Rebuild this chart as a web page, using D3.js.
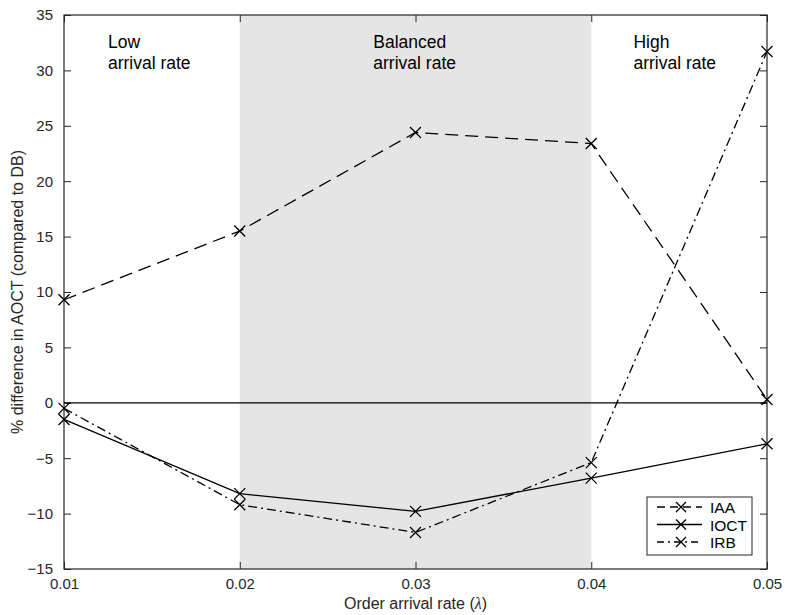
<!DOCTYPE html>
<html>
  <style>
    body { margin: 0; background: #fff; }
    text { font-family: "Liberation Sans", Arial, sans-serif; fill: #262626; }
  </style>
  <body>
    <script src="https://d3js.org/d3.v7.min.js"></script>
    <script type="text/javascript">

        // order arrival rates
        var rates = [0.01, 0.02, 0.03, 0.04, 0.05];

        // % difference in AOCT compared to DB
        var iaa = [9.3, 15.5, 24.4, 23.4, 0.3];
        var ioct = [-1.5, -8.2, -9.8, -6.8, -3.7];
        var irb = [-0.5, -9.2, -11.7, -5.4, 31.7];

        var xTicks = [0.01, 0.02, 0.03, 0.04, 0.05];
        var yTicks = [-15, -10, -5, 0, 5, 10, 15, 20, 25, 30, 35];

        var regions = [
          {x: 0.0125, lines: ["Low", "arrival rate"]},
          {x: 0.0276, lines: ["Balanced", "arrival rate"]},
          {x: 0.0424, lines: ["High", "arrival rate"]}
        ];

        var series = [
          {name: "IAA", values: iaa, dash: "13,7"},
          {name: "IOCT", values: ioct, dash: null},
          {name: "IRB", values: irb, dash: "9,4,2,4"}
        ];

        var w = 785, h = 615;
        var padL = 64, padR = 767, padT = 15, padB = 569;

        var svg = d3.select("body").append("svg")
          .attr("width", w)
          .attr("height", h);

        var xScale = d3.scaleLinear().domain([0.01, 0.05]).range([padL, padR]);
        var yScale = d3.scaleLinear().domain([-15, 35]).range([padB, padT]);

        // shaded balanced region
        svg.append("rect")
          .attr("x", xScale(0.02))
          .attr("y", padT)
          .attr("width", xScale(0.04) - xScale(0.02))
          .attr("height", padB - padT)
          .attr("fill", "#e5e5e5");

        // axes with inward ticks on all four sides
        var axisColor = "#262626";
        function styleAxis(g) {
          g.select(".domain").remove();
          g.selectAll(".tick line").attr("stroke", axisColor).attr("stroke-width", 1);
          g.selectAll(".tick text")
            .attr("font-size", 15)
            .style("fill", axisColor)
            .attr("font-family", "Liberation Sans, Arial, sans-serif");
        }

        svg.append("g")
          .attr("transform", "translate(0," + padB + ")")
          .call(d3.axisBottom(xScale).tickValues(xTicks).tickFormat(d3.format(".2f"))
            .tickSizeInner(-7).tickSizeOuter(0).tickPadding(9))
          .call(styleAxis);

        svg.append("g")
          .attr("transform", "translate(0," + padT + ")")
          .call(d3.axisTop(xScale).tickValues(xTicks).tickFormat("")
            .tickSizeInner(-7).tickSizeOuter(0))
          .call(styleAxis);

        svg.append("g")
          .attr("transform", "translate(" + padL + ",0)")
          .call(d3.axisLeft(yScale).tickValues(yTicks).tickFormat(d3.format("d"))
            .tickSizeInner(-7).tickSizeOuter(0).tickPadding(11))
          .call(styleAxis);

        svg.append("g")
          .attr("transform", "translate(" + padR + ",0)")
          .call(d3.axisRight(yScale).tickValues(yTicks).tickFormat("")
            .tickSizeInner(-7).tickSizeOuter(0))
          .call(styleAxis);

        svg.append("rect")
          .attr("x", padL).attr("y", padT)
          .attr("width", padR - padL).attr("height", padB - padT)
          .attr("fill", "none")
          .attr("stroke", axisColor)
          .attr("stroke-width", 1.2);

        // zero line
        svg.append("line")
          .attr("x1", padL).attr("x2", padR)
          .attr("y1", yScale(0)).attr("y2", yScale(0))
          .attr("stroke", "#000")
          .attr("stroke-width", 1.3);

        // region labels
        regions.forEach(function(r) {
          var t = svg.append("text")
            .attr("x", xScale(r.x))
            .attr("y", 48)
            .attr("font-size", 17.5)
            .style("fill", "#000");
          r.lines.forEach(function(s, i) {
            t.append("tspan").attr("x", xScale(r.x)).attr("dy", i === 0 ? 0 : 21).text(s);
          });
        });

        var line = d3.line()
          .x(function(d, i) { return xScale(rates[i]); })
          .y(function(d) { return yScale(d); });

        function cross(g, x, y, s) {
          g.append("path")
            .attr("d", "M" + (x - s) + "," + (y - s) + "L" + (x + s) + "," + (y + s) +
                       "M" + (x - s) + "," + (y + s) + "L" + (x + s) + "," + (y - s))
            .attr("stroke", "#000")
            .attr("stroke-width", 1.3)
            .attr("fill", "none");
        }

        series.forEach(function(s) {
          svg.append("path")
            .datum(s.values)
            .attr("d", line)
            .attr("fill", "none")
            .attr("stroke", "#000")
            .attr("stroke-width", 1.3)
            .attr("stroke-dasharray", s.dash);
          var g = svg.append("g");
          s.values.forEach(function(v, i) {
            cross(g, xScale(rates[i]), yScale(v), 5.5);
          });
        });

        // legend
        var lg = svg.append("g");
        lg.append("rect")
          .attr("x", 647).attr("y", 497)
          .attr("width", 105).attr("height", 58)
          .attr("fill", "#fff")
          .attr("stroke", axisColor)
          .attr("stroke-width", 1);
        var legendDash = ["8,5", null, "7,4,2,4"];
        series.forEach(function(s, i) {
          var y = 507 + i * 17.5;
          lg.append("line")
            .attr("x1", 657).attr("x2", 702)
            .attr("y1", y).attr("y2", y)
            .attr("stroke", "#000")
            .attr("stroke-width", 1.3)
            .attr("stroke-dasharray", legendDash[i]);
          cross(lg, 681, y, 5);
          lg.append("text")
            .attr("x", 710).attr("y", y + 6)
            .attr("font-size", 15.5)
            .style("fill", "#000")
            .text(s.name);
        });

        // axis titles
        svg.append("text")
          .attr("x", (padL + padR) / 2)
          .attr("y", 609)
          .attr("text-anchor", "middle")
          .attr("font-size", 16)
          .html("Order arrival rate (<tspan font-family='Liberation Serif, serif' font-style='italic'>λ</tspan>)");

        svg.append("text")
          .attr("transform", "translate(23," + (padT + padB) / 2 + ") rotate(-90)")
          .attr("text-anchor", "middle")
          .attr("font-size", 16)
          .text("% difference in AOCT (compared to DB)");

    </script>
  </body>
</html>
